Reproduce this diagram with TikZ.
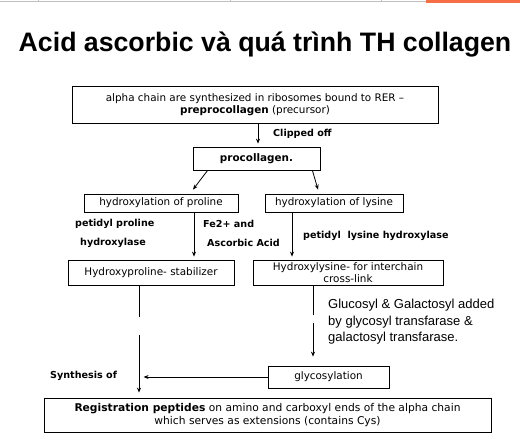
\documentclass[tikz,border=0pt]{standalone}
\usepackage{fontspec}
\setmainfont{DejaVu Sans}
\newfontfamily\arialfont{Liberation Sans}
\usepackage{tikz}
\usetikzlibrary{arrows.meta,positioning,calc}
\usepackage{xcolor}
\definecolor{tabline}{RGB}{190,190,190}
\definecolor{taborange}{RGB}{245,110,70}

\begin{document}
\begin{tikzpicture}[
        x=1pt, y=-1pt,
        box/.style={rectangle,draw,line width=0.8pt,inner sep=0pt,align=center,
            font=\fontsize{10.4}{12.5}\selectfont},
        lbl/.style={anchor=west,inner sep=0pt,font=\fontsize{9.6}{11}\selectfont\bfseries},
        arrow/.style={-{Stealth[length=5pt,width=4pt]},line width=0.8pt},
        plain/.style={line width=0.8pt}
    ]
        \useasboundingbox (0,0) rectangle (520,442);
        % window edge of the screenshot
        \draw[tabline,line width=1pt] (0,1) -- (520,1);
        \foreach \xx in {38,230,381} \draw[tabline,line width=0.8pt] (\xx,0) -- (\xx,2);
        \fill[taborange] (426,0) rectangle (520,2.5);

        \node[font=\arialfont\fontsize{26.7}{30}\selectfont\bfseries] (titel) at (265,45) {Acid ascorbic và quá trình TH collagen};

        \node[box,minimum width=366,minimum height=37] (pre) at (255,104.5)
            {alpha chain are synthesized in ribosomes bound to RER --\\\textbf{preprocollagen} (precursor)};
        \node[box,minimum width=127,minimum height=23,font=\fontsize{10.4}{12.5}\selectfont\bfseries] (proc) at (256.5,158.5) {procollagen.};
        \node[box,minimum width=154,minimum height=18] (hpro) at (161,203) {hydroxylation of proline};
        \node[box,minimum width=138,minimum height=18] (hlys) at (334,203) {hydroxylation of lysine};
        \node[box,minimum width=166,minimum height=25] (ypro) at (151,272.5) {Hydroxyproline- stabilizer};
        \node[box,minimum width=190,minimum height=25] (ylys) at (348,272.5) {Hydroxylysine- for interchain\\cross-link};
        \node[box,minimum width=121,minimum height=22] (glyc) at (328.5,377) {glycosylation};
        \node[box,minimum width=447,minimum height=34,font=\fontsize{10.7}{12.5}\selectfont] (reg) at (267.5,415)
            {\textbf{Registration peptides} on amino and carboxyl ends of the alpha chain\\which serves as extensions (contains Cys)};

        \node[lbl] (clip) at (273,134) {Clipped off};
        \node[lbl] (fe) at (203,224) {Fe2+ and};
        \node[lbl] (asc) at (207,243) {Ascorbic Acid};
        \node[lbl] (ppro) at (75,224) {petidyl proline};
        \node[lbl] (phyd) at (80,243) {hydroxylase};
        \node[lbl] (plys) at (303,236) {petidyl~ lysine hydroxylase};
        \node[lbl] (synth) at (50,376) {Synthesis of};
        \node[anchor=north west,inner sep=0pt,align=left,font=\arialfont\fontsize{13}{16.5}\selectfont] (gluc) at (328,299)
            {Glucosyl \& Galactosyl added\\by glycosyl transfarase \&\\galactosyl transfarase.};

        \draw[arrow,shorten >=3pt] ([xshift=3pt]pre.south) -- ([xshift=3pt]pre.south |- proc.north);
        \draw[arrow] ([xshift=15pt]proc.south west) -- ([xshift=32pt,yshift=4pt]hpro.north);
        \draw[arrow] ([xshift=-8pt]proc.south east) -- ([xshift=-16pt,yshift=4pt]hlys.north);

        \draw[arrow,shorten >=3pt] ([xshift=33pt]hpro.south) -- ([xshift=33pt]hpro.south |- ypro.north);
        \draw[arrow,shorten >=3pt] ([xshift=-42pt]hlys.south) -- ([xshift=-42pt]hlys.south |- ylys.north);

        \draw[plain] ([xshift=-12pt]ypro.south) -- ++(0,32);
        \draw[arrow,shorten >=5pt] ([xshift=-12pt,yshift=-50pt]ypro.south) -- ([xshift=-12pt]ypro.south |- reg.north);
        \draw[plain] ([xshift=-35pt]ylys.south) -- ++(0,30);
        \draw[arrow,shorten >=9pt] ([xshift=-35pt,yshift=-38pt]ylys.south) -- ([xshift=-35pt]ylys.south |- glyc.north);

        \draw[arrow] (glyc.west) -- ++(-124,0);
    \end{tikzpicture}
\end{document}
